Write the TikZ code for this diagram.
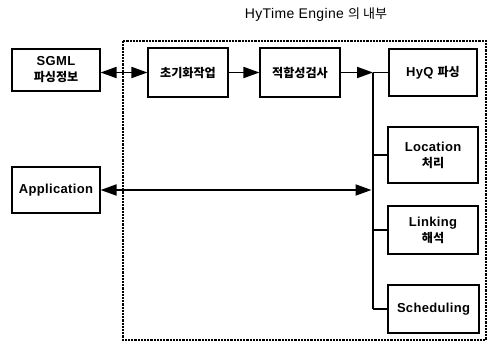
\documentclass[tikz,border=0pt]{standalone}
\usepackage{fontspec}
\setmainfont{Liberation Sans}[LetterSpace=2.5]
\newfontfamily\kr{Noto Sans CJK KR}[Scale=0.93]
\usetikzlibrary{arrows.meta}
\tikzset{
  box/.style={draw, line width=1.1pt, align=center, font=\fontsize{13}{16}\selectfont\bfseries, inner sep=2pt},
  tip/.tip={Triangle[length=16pt,width=11pt]},
  arr/.style={line width=1.8pt, -tip},
  barr/.style={line width=1.8pt, tip-tip},
  link/.style={line width=1.1pt},
  frame/.style={line width=1.4pt, dash pattern=on 2.2pt off 1pt},
}
\begin{document}
\begin{tikzpicture}[x=1pt, y=-1pt]
\useasboundingbox (0,0) rectangle (490,343);
% engine boundary
\draw[frame] (123,41) rectangle (486,340);
\node[font=\fontsize{14}{16}\selectfont] (title) at (316,15) {HyTime Engine {\kr 의 내부}};
% outside components
\node[box, minimum width=88pt, minimum height=42pt] (sgml) at (56,70) {SGML\\{\kr 파싱정보}};
\node[box, minimum width=88pt, minimum height=46pt] (app) at (56,190) {Application};
% processing stages
\node[box, minimum width=80pt, minimum height=49pt] (init) at (188,72.5) {\kr 초기화작업};
\node[box, minimum width=80pt, minimum height=49pt] (check) at (300,72.5) {\kr 적합성검사};
\node[box, minimum width=88pt, minimum height=47pt] (hyq) at (433,72.5) {HyQ {\kr 파싱}};
\node[box, minimum width=90pt, minimum height=56pt] (loc) at (433,155) {Location\\{\kr 처리}};
\node[box, minimum width=90pt, minimum height=48pt] (lnk) at (433,230) {Linking\\{\kr 해석}};
\node[box, minimum width=91pt, minimum height=48pt] (sch) at (433.5,309) {Scheduling};
% distribution bus
\coordinate (bustop) at (373,72.5);
\coordinate (busbot) at (373,309);
\draw[link] (bustop) -- (busbot);
\draw[link] (bustop) -- (hyq.west);
\draw[link] (loc.west -| bustop) -- (loc.west);
\draw[link] (lnk.west -| bustop) -- (lnk.west);
\draw[link] (busbot) -- (sch.west);
% data flow
\draw[barr] (init.west -| sgml.east) -- (init.west);
\draw[arr] (init.east) -- (check.west);
\draw[arr] (check.east) -- (bustop);
\draw[barr, shorten >=1.5pt] (app.east) -- (app.east -| bustop);
\end{tikzpicture}
\end{document}
